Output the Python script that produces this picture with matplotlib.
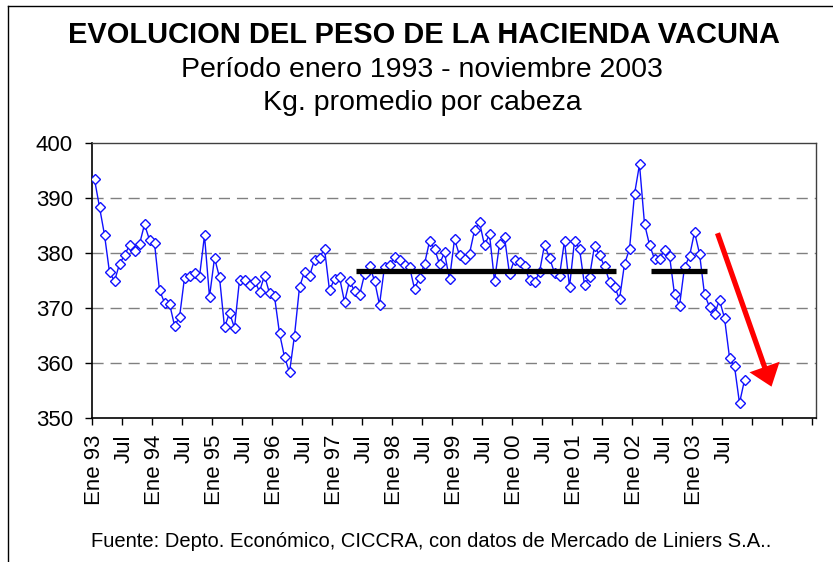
import numpy as np
import matplotlib
matplotlib.use("Agg")
import matplotlib.pyplot as plt
from matplotlib.lines import Line2D
from matplotlib.patches import FancyArrowPatch

plt.rcParams['font.family'] = ['Liberation Sans', 'DejaVu Sans']

# Kg. promedio por cabeza, enero 1993 - noviembre 2003 (mensual)
peso = [
    393.4, 388.3, 383.3, 376.5, 374.9, 378.0, 379.6, 381.4, 380.4, 381.6, 385.2, 382.4,
    381.8, 373.2, 371.0, 370.8, 366.8, 368.3, 375.5, 375.9, 376.4, 375.7, 383.2, 372.0,
    379.1, 375.6, 366.5, 369.1, 366.4, 375.1, 375.1, 374.2, 375.0, 373.0, 375.9, 372.7,
    372.1, 365.4, 361.1, 358.3, 365.0, 373.8, 376.6, 375.8, 378.8, 379.1, 380.8, 373.2,
    375.3, 375.6, 371.1, 374.9, 373.1, 372.3, 376.1, 377.6, 375.0, 370.6, 377.5, 377.8,
    379.2, 378.7, 377.9, 377.5, 373.5, 375.5, 378.0, 382.1, 380.8, 378.0, 380.1, 375.2,
    382.5, 379.6, 378.9, 379.9, 384.1, 385.6, 381.4, 383.4, 374.9, 381.6, 382.9, 376.2,
    378.8, 378.4, 377.6, 375.1, 374.7, 376.5, 381.5, 379.1, 376.4, 375.9, 382.2, 373.8,
    382.2, 380.8, 374.2, 375.7, 381.3, 379.6, 377.6, 374.8, 373.9, 371.6, 378.0, 380.7,
    390.7, 396.1, 385.3, 381.5, 378.9, 379.0, 380.5, 379.5, 372.5, 370.4, 377.4, 379.4,
    383.8, 379.9, 372.5, 370.2, 369.0, 371.4, 368.2, 361.0, 359.4, 352.7, 356.9,
]

# etiquetas del eje x, cada 6 meses
etiquetas = []
for anio in range(93, 104):
    etiquetas += ["Ene %02d" % (anio % 100), "Jul"]

# promedios marcados con barras negras (inicio, fin en meses, valor)
promedios = [(52.8, 104.7, 376.8), (111.8, 122.9, 376.8)]

# flecha de tendencia (mes, kg)
flecha_ini = (125.1, 383.6)
flecha_fin = (135.9, 355.7)

W, H = 833, 562
fig = plt.figure(figsize=(W / 100, H / 100), dpi=100)
ax = fig.add_axes([92 / W, 1 - 418 / H, (816 - 92) / W, 275 / H])

x = np.arange(len(peso)) + 0.5
ax.plot(x, peso, color='#1010ff', lw=1, marker='D', ms=4.8, mfc='white',
        mec='#1010ff', mew=1, zorder=3)

for x0, x1, y in promedios:
    ax.hlines(y, x0, x1, color='black', lw=3.8, zorder=4)

arrow = FancyArrowPatch(flecha_ini, flecha_fin, mutation_scale=1,
                        arrowstyle="simple,head_width=23,head_length=15,tail_width=3.8",
                        color='#ff0000', lw=0, shrinkA=0, shrinkB=0, zorder=5)
ax.add_patch(arrow)

ax.set_xlim(0, 144.8)
ax.set_ylim(350, 400)
ax.set_yticks(np.arange(350, 401, 10))
for y in range(360, 400, 10):
    ax.axhline(y, color='#808080', lw=1, dashes=(8, 5), zorder=1)

ax.set_xticks(np.arange(0, 145, 6))
ax.set_xticklabels([])
ax.set_xticks(np.arange(len(etiquetas)) * 6 + 0.5, minor=True)
ax.set_xticklabels(etiquetas, minor=True, rotation=90, fontsize=16, va='top')
ax.tick_params(axis='x', which='major', direction='out', length=5, width=1)
ax.tick_params(axis='x', which='minor', length=0, pad=12)
ax.tick_params(axis='y', direction='out', length=5, width=1, labelsize=16, pad=8.6)

for s in ['top', 'right']:
    ax.spines[s].set_color('#404040')
    ax.spines[s].set_linewidth(1)
for s in ['left', 'bottom']:
    ax.spines[s].set_color('black')
    ax.spines[s].set_linewidth(1.2)

cx = 424 / W
fig.text(cx, 1 - 43.3 / H, "EVOLUCION DEL PESO DE LA HACIENDA VACUNA",
         ha='center', va='baseline', fontsize=20.9, fontweight='bold')
fig.text(422 / W, 1 - 76.7 / H, "Período enero 1993 - noviembre 2003",
         ha='center', va='baseline', fontsize=20.5)
fig.text(422 / W, 1 - 109.7 / H, "Kg. promedio por cabeza",
         ha='center', va='baseline', fontsize=20.5)
fig.text(431.5 / W, 1 - 546.7 / H,
         "Fuente: Depto. Económico, CICCRA, con datos de Mercado de Liniers S.A..",
         ha='center', va='baseline', fontsize=14.5)

# marco del area del grafico
fig.add_artist(Line2D([8 / W, 8 / W], [0, 1 - 6 / H], transform=fig.transFigure,
                      color='black', lw=1))
fig.add_artist(Line2D([8 / W, 1], [1 - 6 / H, 1 - 6 / H], transform=fig.transFigure,
                      color='black', lw=1))

fig.savefig("out.png", dpi=100)
